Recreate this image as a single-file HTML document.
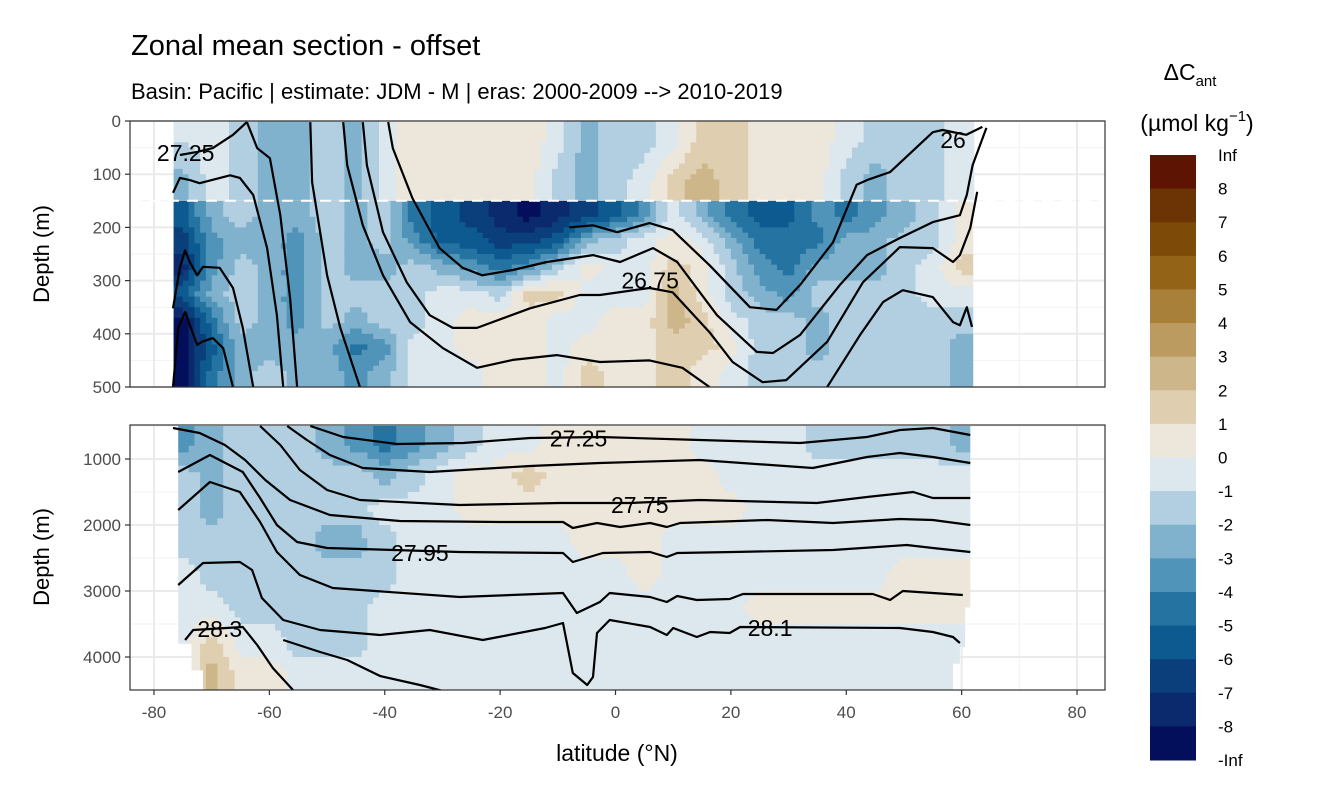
<!DOCTYPE html>
<html><head><meta charset="utf-8"><style>
html,body{margin:0;padding:0;background:#fff;}
svg text{font-family:"Liberation Sans",Arial,sans-serif;}
</style></head><body>
<svg id="chart" width="1344" height="806" viewBox="0 0 1344 806" xmlns="http://www.w3.org/2000/svg">
<rect width="1344" height="806" fill="#fff"/>
<text x="131" y="55" font-size="29" fill="#000">Zonal mean section - offset</text>
<text x="131" y="99" font-size="22" fill="#000">Basin: Pacific | estimate: JDM - M | eras: 2000-2009 --&gt; 2010-2019</text>
<g id="plot"></g>
<g id="legend"></g>
</svg>
<script>
// ---- data ----
const latEdges = [-77.5,-72.5,-67.5,-62.5,-57.5,-52.5,-47.5,-42.5,-37.5,-32.5,-27.5,-22.5,-17.5,-12.5,-7.5,-2.5,2.5,7.5,12.5,17.5,22.5,27.5,32.5,37.5,42.5,47.5,52.5,57.5,62.5];
const topDepthEdges = [0,75,150,200,250,300,350,400,450,500];
const bottomDepthEdges = [500,1000,1500,2000,2500,3000,3500,4000,4500];
const topValues = [
 [-1,-0.5,-1.5,-2.5,-2.5,-1.5,-2.5,-0.5,0.5,0.5,0.5,0.5,0.5,-0.5,-2.5,-1.5,-1.5,-0.5,1.5,1.5,0.5,0.5,0.5,-0.5,-1.5,-1.5,-1.5,-0.5],
 [-2.5,-0.5,-1.5,-2.5,-2.5,-1.5,-2.5,-0.5,0.5,0.5,0.5,0.5,0.5,-1.5,-2.5,-1.5,-0.5,1.5,2.5,1.5,0.5,0.5,0.5,-1.5,-2.5,-1.5,-1.5,-0.5],
 [-5.5,-2.5,-1.5,-2.5,-2.5,-1.5,-2.5,-1.5,-4.5,-5.5,-6.5,-7.5,-8.5,-7.5,-6.5,-5.5,-3.5,-0.5,-2.5,-4.5,-5.5,-5.5,-3.5,-4.5,-3.5,-2.5,-1.5,0.5],
 [-6.5,-3.5,-2.5,-2.5,-3.5,-1.5,-2.5,-1.5,-3.5,-5.5,-5.5,-6.5,-6.5,-5.5,-2.5,-1.5,-0.5,0.5,-0.5,-2.5,-4.5,-4.5,-4.5,-2.5,-2.5,-1.5,-1.5,0.5],
 [-7.5,-3.5,-1.5,-2.5,-3.5,-1.5,-2.5,-2.5,-1.5,-2.5,-3.5,-4.5,-3.5,-1.5,0.5,-0.5,-0.5,1.5,0.5,-1.5,-3.5,-4.5,-2.5,-2.5,-2.5,-1.5,-0.5,1.5],
 [-5.5,-2.5,-1.5,-2.5,-3.5,-1.5,-1.5,-1.5,-1.5,-0.5,-0.5,-1.5,1.5,1.5,-0.5,-0.5,-0.5,2.5,0.5,-1.5,-2.5,-3.5,-1.5,-1.5,-1.5,-1.5,-0.5,-0.5],
 [-8.5,-4.5,-1.5,-2.5,-3.5,-1.5,-2.5,-1.5,-1.5,-0.5,0.5,0.5,0.5,-0.5,-0.5,0.5,0.5,2.5,1.5,-0.5,-1.5,-1.5,-2.5,-1.5,-1.5,-1.5,-1.5,-1.5],
 [-8.5,-5.5,-2.5,-2.5,-2.5,-2.5,-4.5,-3.5,-0.5,-0.5,0.5,0.5,0.5,-0.5,0.5,0.5,0.5,1.5,1.5,0.5,-1.5,-1.5,-2.5,-1.5,-1.5,-1.5,-1.5,-2.5],
 [-8.5,-4.5,-2.5,-1.5,-2.5,-2.5,-3.5,-2.5,-0.5,-0.5,-0.5,0.5,0.5,-0.5,1.5,0.5,0.5,1.5,0.5,-0.5,-1.5,-1.5,-1.5,-1.5,-1.5,-1.5,-1.5,-2.5]
];
const bottomValues = [
 [-3.5,-2.5,-1.5,-1.5,-1.5,-2.5,-3.5,-4.5,-3.5,-2.5,-1.5,-0.5,-0.5,0.5,0.5,0.5,0.5,0.5,-0.5,-0.5,-0.5,-0.5,-1.5,-1.5,-1.5,-1.5,-1.5,-2.5],
 [-1.5,-2.5,-1.5,-1.5,-1.5,-1.5,-1.5,-2.5,-1.5,-0.5,0.5,0.5,1.5,0.5,0.5,0.5,0.5,0.5,0.5,-0.5,-0.5,-0.5,-0.5,-0.5,-0.5,-0.5,-0.5,-0.5],
 [-1.5,-2.5,-1.5,-1.5,-1.5,-1.5,-1.5,-0.5,-0.5,-0.5,0.5,0.5,0.5,0.5,0.5,0.5,0.5,0.5,0.5,0.5,-0.5,-0.5,-0.5,-0.5,-0.5,-0.5,-0.5,-0.5],
 [-1.5,-1.5,-1.5,-1.5,-1.5,-2.5,-2.5,-1.5,-0.5,-0.5,-0.5,-0.5,-0.5,-0.5,0.5,0.5,0.5,-0.5,-0.5,-0.5,-0.5,-0.5,-0.5,-0.5,-0.5,-0.5,-0.5,-0.5],
 [-0.5,-1.5,-1.5,-1.5,-1.5,-1.5,-1.5,-1.5,-0.5,-0.5,-0.5,-0.5,-0.5,-0.5,-0.5,-0.5,0.5,-0.5,-0.5,-0.5,-0.5,-0.5,-0.5,-0.5,-0.5,0.5,0.5,0.5],
 [-0.5,-0.5,-1.5,-1.5,-1.5,-1.5,-1.5,-0.5,-0.5,-0.5,-0.5,-0.5,-0.5,-0.5,-0.5,-0.5,-0.5,-0.5,-0.5,-0.5,0.5,0.5,0.5,0.5,0.5,0.5,0.5,0.5],
 [-0.5,1.5,-0.5,-0.5,-1.5,-1.5,-1.5,-0.5,-0.5,-0.5,-0.5,-0.5,-0.5,-0.5,-0.5,-0.5,-0.5,-0.5,-0.5,-0.5,-0.5,-0.5,-0.5,-0.5,-0.5,-0.5,-0.5,-0.5],
 [-0.5,2.5,0.5,0.5,-0.5,-0.5,-0.5,-0.5,-0.5,-0.5,-0.5,-0.5,-0.5,-0.5,-0.5,-0.5,-0.5,-0.5,-0.5,-0.5,-0.5,-0.5,-0.5,-0.5,-0.5,-0.5,-0.5,-0.5]
];
const topContours = [
 [[-63.9,2],[-66.3,26],[-69.8,51],[-72.5,58],[-75.5,64]],
 [[-76.7,135],[-75.5,107],[-73.8,111],[-72.1,117],[-66.8,102],[-65.1,107],[-62.8,139],[-60.4,239],[-58.7,365],[-57.6,500]],
 [[-76.7,352],[-75.5,276],[-74.6,243],[-73.8,265],[-72.5,290],[-71.5,274],[-68.6,276],[-66.3,314],[-64.6,389],[-62.8,500]],
 [[-76.7,500],[-75.8,389],[-74.6,359],[-72.5,421],[-71.7,415],[-69.8,408],[-68.0,427],[-66.3,500]],
 [[-63.9,2],[-62.1,51],[-59.9,70],[-58.1,177],[-56.4,333],[-55.2,500]],
 [[-52.9,2],[-52.6,115],[-50.0,290],[-47.7,389],[-44.3,500]],
 [[-47.2,2],[-46.5,83],[-43.8,196],[-40.3,290],[-35.6,378],[-29.9,427],[-24.0,464],[-17.8,449],[-10.2,440],[-2.7,453],[5.9,450],[11.6,464],[16.3,500]],
 [[36.7,500],[42.4,402],[46.4,340],[49.8,318],[55.0,331],[58.5,378],[59.7,384],[60.9,350],[61.8,387]],
 [[-43.8,2],[-43.1,83],[-40.3,209],[-36.2,303],[-32.2,365],[-28.2,389],[-24.0,389],[-14.8,352],[-6.2,327],[-2.7,327],[5.9,314],[9.9,322],[16.3,397],[20.3,453],[25.5,491],[29.6,487],[36.7,415],[42.9,303],[49.3,237],[55.0,239],[58.5,265],[59.7,252],[61.5,201],[62.7,133]],
 [[-39.4,2],[-38.6,51],[-35.2,145],[-30.5,239],[-26.5,276],[-23.1,290],[-17.8,280],[-11.9,265],[-3.9,252],[0.8,265],[6.5,239],[10.7,265],[17.6,365],[24.5,434],[27.3,436],[32.0,402],[38.9,308],[43.6,252],[49.3,220],[55.0,190],[59.7,177],[60.9,139],[61.9,83],[64.3,13]],
 [[-8.0,200],[-3.9,196],[0.3,209],[5.9,192],[9.9,205],[16.3,271],[23.3,350],[27.9,355],[32.0,308],[37.7,228],[41.8,120],[43.6,111],[47.6,96],[55.0,21],[56.7,17],[60.8,26],[63.6,11]]
];
const bottomContours = [
 [[-52.9,500],[-47.2,667],[-37.9,773],[-26.4,758],[-14.8,682],[-2.7,667],[14.6,712],[32.0,758],[43.6,667],[49.3,561],[55.0,530],[61.5,636]],
 [[-56.9,500],[-53.5,712],[-49.5,939],[-43.8,1136],[-32.2,1197],[-14.8,1106],[-2.7,1061],[14.6,1015],[34.2,1136],[43.6,970],[49.3,909],[55.0,970],[61.5,1061]],
 [[-61.6,500],[-58.1,788],[-54.7,1167],[-50.0,1470],[-44.3,1621],[-27.0,1697],[-9.6,1667],[2.5,1667],[14.6,1621],[34.9,1667],[43.6,1576],[51.6,1500],[55.0,1591],[61.5,1591]],
 [[-76.7,530],[-72.1,606],[-67.7,788],[-64.2,1015],[-60.7,1318],[-56.4,1621],[-49.5,1848],[-37.4,1939],[-20.0,1955],[-9.1,1955],[-7.4,2045],[-3.2,1970],[0.8,2030],[6.0,1970],[8.9,2030],[11.2,1970],[26.3,1924],[37.7,1970],[49.3,1909],[55.0,1924],[61.5,2000]],
 [[-75.8,1197],[-70.3,939],[-64.6,1197],[-61.6,1591],[-58.7,2000],[-55.2,2257],[-50.0,2348],[-27.0,2409],[-9.1,2424],[-7.4,2560],[-2.2,2424],[6.0,2409],[8.9,2485],[10.7,2424],[20.4,2409],[37.7,2379],[50.5,2303],[55.0,2348],[61.5,2409]],
 [[-75.8,1773],[-70.3,1348],[-65.1,1500],[-61.6,1955],[-58.7,2409],[-54.7,2757],[-49.0,2954],[-27.0,3091],[-9.1,3030],[-6.7,3333],[-2.7,3167],[-1.0,3030],[6.0,3091],[8.9,3167],[10.7,3076],[14.1,3136],[19.8,3121],[22.1,3045],[44.6,3045],[47.6,3136],[49.8,3000],[60.2,3060]],
 [[-75.8,2909],[-71.5,2576],[-65.1,2560],[-63.0,2682],[-61.3,3106],[-57.6,3439],[-51.2,3591],[-40.8,3666],[-32.2,3591],[-23.0,3742],[-12.2,3560],[-9.1,3485],[-7.4,4242],[-4.9,4424],[-3.9,4303],[-3.2,3636],[-1.0,3439],[6.0,3545],[8.9,3666],[10.0,3560],[14.1,3697],[16.4,3621],[19.8,3636],[21.6,3545],[49.3,3560],[55.0,3621],[58.5,3697],[59.7,3788]],
 [[-74.6,3742],[-73.2,3591],[-64.6,3545],[-62.1,3818],[-59.4,4166],[-55.9,4500]],
 [[-57.6,3742],[-51.2,3924],[-46.5,4045],[-40.8,4288],[-33.9,4424],[-29.2,4530]]
];
const topLabels = [["27.25",-74.5,60],["26.75",6,300],["26",58.5,36]];
const bottomLabels = [["27.25",-6.4,690],["27.75",4.2,1697],["27.95",-33.9,2424],["28.3",-68.6,3575],["28.1",26.8,3560]];
const legendLabels = ["Inf","8","7","6","5","4","3","2","1","0","-1","-2","-3","-4","-5","-6","-7","-8","-Inf"];
const palette = ['#040f5c','#0b2a6d','#0a3f7b','#0c5a8f','#2573a1','#5094b9','#80b2cd','#b1cfe0','#dde8ee','#ede6da','#dfcfb0','#cdb78a','#bb9b60','#a98039','#936318','#7e4a07','#6c3304','#5e1402'];
const xTicks = [-80,-60,-40,-20,0,20,40,60,80];
const topYTicks = [0,100,200,300,400,500];
const bottomYTicks = [1000,2000,3000,4000];

// ---- scales ----
const PX0=130, PX1=1105;
const xs = lat => 615.5 + lat*5.769;
const ysTop = d => 121 + d*0.532;
const ysBot = d => 459 + (d-1000)*0.066;
const NS='http://www.w3.org/2000/svg';
function mk(tag, attrs, parent){const e=document.createElementNS(NS,tag);for(const k in attrs)e.setAttribute(k,attrs[k]);if(parent)parent.appendChild(e);return e;}
function colorOf(v){let i=Math.floor(v)+9;if(i<0)i=0;if(i>17)i=17;return palette[i];}
const svg=document.getElementById('chart');
const plot=document.getElementById('plot');
const defs=mk('defs',{},svg);

function panel(name, yTop, yBot, ys, hMajor, hMinor){
  const g=mk('g',{},plot);
  
  
  for(const v of [-70,-50,-30,-10,10,30,50,70]) mk('line',{x1:xs(v),x2:xs(v),y1:yTop,y2:yBot,stroke:'#f2f2f2','stroke-width':1},g);
  for(const d of hMinor) mk('line',{x1:PX0,x2:PX1,y1:ys(d),y2:ys(d),stroke:'#f2f2f2','stroke-width':1},g);
  for(const v of xTicks) mk('line',{x1:xs(v),x2:xs(v),y1:yTop,y2:yBot,stroke:'#ebebeb','stroke-width':2},g);
  for(const d of hMajor) mk('line',{x1:PX0,x2:PX1,y1:ys(d),y2:ys(d),stroke:'#ebebeb','stroke-width':2},g);
  return g;
}
const topPanel=panel('top-panel',121,387,ysTop,[0,100,200,300,400,500],[50,150,250,350,450]);
const botPanel=panel('bottom-panel',425,690,ysBot,[1000,2000,3000,4000],[500,1500,2500,3500,4500]);

function clipRect(id,x0,y0,x1,y1){const c=mk('clipPath',{id:id},defs);mk('rect',{x:x0,y:y0,width:x1-x0,height:y1-y0},c);}
clipRect('clipTopUpper',xs(-76.6),121,xs(62.2),ysTop(150));
clipRect('clipTopLower',xs(-76.6),ysTop(150),xs(62),387);
const clipBottomPoly=[[-75.8,500],[61.5,500],[61.5,3250],[60.6,3250],[60.6,3850],[59.7,3850],[59.7,4100],[58.5,4100],[58.5,4500],[-71.5,4500],[-71.5,4200],[-73.5,4200],[-73.5,3800],[-75.8,3800]];
{const c=mk('clipPath',{id:'clipBottom'},defs);mk('polygon',{points:clipBottomPoly.map(p=>xs(p[0])+','+ysBot(p[1])).join(' ')},c);}

// bilinear sampling of cell-centre values (rendering only)
function sample(vals, rows, edges, lat, d){
  const nC=latEdges.length-1;
  let fc=(lat-latEdges[0])/5-0.5; fc=Math.max(0,Math.min(nC-1,fc));
  const c0=Math.floor(fc), c1=Math.min(nC-1,c0+1), tc=fc-c0;
  const cy=rows.map(r=>(edges[r]+edges[r+1])/2);
  let r0=0,r1=0,tr=0;
  if(d<=cy[0]){r0=r1=0;}else if(d>=cy[cy.length-1]){r0=r1=cy.length-1;}
  else{for(let i=0;i<cy.length-1;i++){if(d>=cy[i]&&d<=cy[i+1]){r0=i;r1=i+1;tr=(d-cy[i])/(cy[i+1]-cy[i]);break;}}}
  const g=(ri,ci)=>{const v=vals[rows[ri]][ci];return (v===null||v===undefined)?-0.5:v;};
  const a=g(r0,c0)*(1-tc)+g(r0,c1)*tc, b=g(r1,c0)*(1-tc)+g(r1,c1)*tc;
  return a*(1-tr)+b*tr;
}
function drawField(parent, clipId, vals, edges, rows, ys, dStep, name){
  const outer=mk('g',{'clip-path':'url(#'+clipId+')'},parent);
  
  
  const d0=edges[rows[0]], d1=edges[rows[rows.length-1]+1];
  for(let lat=-78; lat<63; lat+=1){
    for(let d=d0; d<d1; d+=dStep){
      const v=sample(vals,rows,edges,lat+0.5,d+dStep/2);
      const x0=xs(lat), y0=ys(d);
      const rc=mk('rect',{x:x0.toFixed(1),y:y0.toFixed(1),width:(xs(lat+1)-x0+0.6).toFixed(1),height:(ys(d+dStep)-y0+0.6).toFixed(1),fill:colorOf(v)},outer);
      
      
    }
  }
}
drawField(topPanel,'clipTopUpper',topValues,topDepthEdges,[0,1],ysTop,10,'offset-layer-cells');
drawField(topPanel,'clipTopLower',topValues,topDepthEdges,[2,3,4,5,6,7,8],ysTop,10,'upper-ocean-cells');
drawField(botPanel,'clipBottom',bottomValues,bottomDepthEdges,[0,1,2,3,4,5,6,7],ysBot,100,'deep-ocean-cells');

// dashed line at 150 m
const dash=mk('line',{x1:PX0,x2:PX1,y1:ysTop(150),y2:ysTop(150),stroke:'#fff','stroke-width':2,'stroke-dasharray':'11,8'},topPanel);



clipRect('clipTopPanel',PX0,121,PX1,387);
clipRect('clipBotPanel',PX0,425,PX1,690);
function drawContours(parent, lines, ys, clipId, name){
  const g=mk('g',{'clip-path':'url(#'+clipId+')'},parent);
  
  
  lines.forEach(l=>{
    const p=mk('polyline',{points:l.map(q=>xs(q[0]).toFixed(1)+','+ys(q[1]).toFixed(1)).join(' '),fill:'none',stroke:'#000','stroke-width':2.2,'stroke-linejoin':'round'},g);
    
    
  });
}
drawContours(topPanel,topContours,ysTop,'clipTopPanel','top-isolines');
drawContours(botPanel,bottomContours,ysBot,'clipBotPanel','bottom-isolines');
function drawLabels(parent, labs, ys){
  labs.forEach(l=>{
    const t=mk('text',{x:xs(l[1]),y:ys(l[2])+8,'font-size':23,'text-anchor':'middle',fill:'#000'},parent);
    t.textContent=l[0];
    
    
  });
}
drawLabels(topPanel,topLabels,ysTop);
drawLabels(botPanel,bottomLabels,ysBot);

mk('rect',{x:PX0,y:121,width:PX1-PX0,height:266,fill:'none',stroke:'#333','stroke-width':1.2},topPanel);
mk('rect',{x:PX0,y:425,width:PX1-PX0,height:265,fill:'none',stroke:'#333','stroke-width':1.2},botPanel);

// axes
const ax=mk('g',{},plot);


topYTicks.forEach(d=>{
  mk('line',{x1:125,x2:130,y1:ysTop(d),y2:ysTop(d),stroke:'#333','stroke-width':1.2},ax);
  const t=mk('text',{x:121,y:ysTop(d)+6,'font-size':17,'text-anchor':'end',fill:'#4d4d4d'},ax);
  t.textContent=d;
  
  
});
bottomYTicks.forEach(d=>{
  mk('line',{x1:125,x2:130,y1:ysBot(d),y2:ysBot(d),stroke:'#333','stroke-width':1.2},ax);
  const t=mk('text',{x:121,y:ysBot(d)+6,'font-size':17,'text-anchor':'end',fill:'#4d4d4d'},ax);
  t.textContent=d;
  
  
});
xTicks.forEach(v=>{
  mk('line',{x1:xs(v),x2:xs(v),y1:690,y2:695,stroke:'#333','stroke-width':1.2},ax);
  const t=mk('text',{x:xs(v),y:718,'font-size':17,'text-anchor':'middle',fill:'#4d4d4d'},ax);
  t.textContent=v;
  
  
});
[[254,'top-y-axis-title'],[557,'bottom-y-axis-title']].forEach(a=>{
  const t=mk('text',{x:0,y:0,'font-size':22,'text-anchor':'middle',fill:'#000',transform:'translate(49,'+a[0]+') rotate(-90)'},ax);
  t.textContent='Depth (m)';
  
  
});
{const t=mk('text',{x:617,y:761,'font-size':23,'text-anchor':'middle',fill:'#000'},ax);
 t.textContent='latitude (°N)';
 
 }

// legend
const lg=document.getElementById('legend');
{const t=mk('text',{x:1190,y:80,'font-size':23,'text-anchor':'middle',fill:'#000'},lg);
 t.innerHTML='ΔC<tspan font-size="15" dy="6">ant</tspan>';
 
 
 const u=mk('text',{x:1197,y:131,'font-size':23,'text-anchor':'middle',fill:'#000'},lg);
 u.innerHTML='(µmol kg<tspan font-size="15" dy="-10">−1</tspan><tspan dy="10">)</tspan>';
 
 }
const bh=(760-155)/palette.length;
palette.slice().reverse().forEach((c,i)=>{
  const r=mk('rect',{x:1150,y:155+i*bh,width:46,height:bh+0.5,fill:c},lg);
  
  
});
legendLabels.forEach((s,i)=>{
  const t=mk('text',{x:1218,y:155+i*bh+6,'font-size':17,fill:'#000'},lg);
  t.textContent=s;
  
  
});
</script>
</body></html>
